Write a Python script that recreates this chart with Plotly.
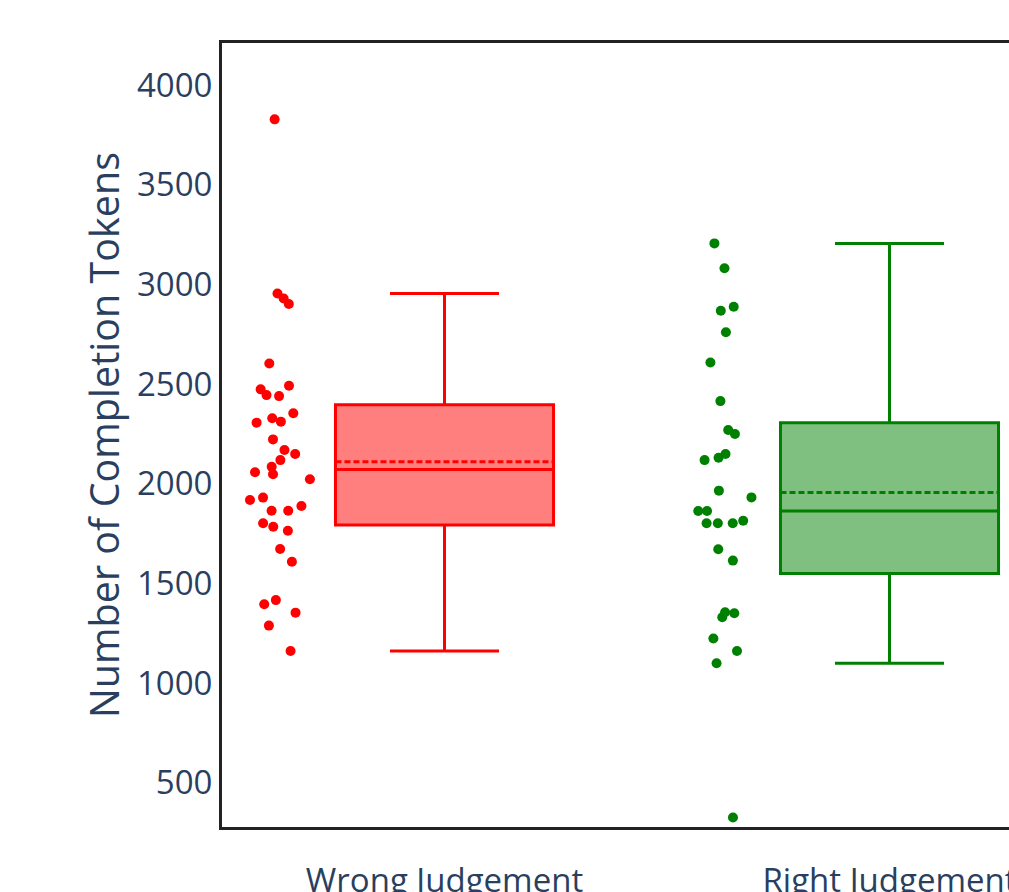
import plotly.graph_objects as go

categories = ["Wrong Judgement", "Right Judgement"]

wrong_tokens = [3828, 2955, 2930, 2902, 2604, 2492, 2474, 2445, 2440, 2354, 2307, 2329,
                2312, 2223, 2170, 2150, 2119, 2058, 2086, 2048, 2023, 1919, 1931, 1865,
                1865, 1889, 1802, 1785, 1765, 1673, 1609, 1417, 1396, 1354, 1289, 1162]

right_tokens = [3206, 3081, 2888, 2868, 2760, 2609, 2415, 2270, 2250, 2150, 2131, 2119,
                1966, 1932, 1864, 1864, 1802, 1802, 1802, 1815, 1672, 1615, 1356, 1351,
                1331, 1224, 1162, 1100, 327]

colors = ["red", "green"]
fills = ["rgba(255,0,0,0.5)", "rgba(0,128,0,0.5)"]

fig = go.Figure()
for cat, vals, c, f in zip(categories, [wrong_tokens, right_tokens], colors, fills):
    fig.add_trace(go.Box(
        y=vals,
        x=[cat] * len(vals),
        name=cat,
        boxpoints="all",
        jitter=0.3,
        pointpos=-1.5,
        boxmean=True,
        marker=dict(color=c, size=10),
        line=dict(color=c, width=3),
        fillcolor=f,
    ))

fig.update_layout(
    width=1009,
    height=892,
    margin=dict(l=222, r=0, t=43, b=65, autoexpand=False),
    template="plotly_white",
    plot_bgcolor="white",
    paper_bgcolor="white",
    showlegend=False,
    font=dict(family="Open Sans", color="#2a3f5f", size=33),
)
fig.update_xaxes(
    range=[-0.5, -0.5 + 787 / 445],
    automargin=False,
    showgrid=False,
    showline=True,
    linecolor="#222",
    linewidth=3,
    mirror=True,
    ticks="",
    ticklabelstandoff=22,
    tickfont=dict(size=33),
    zeroline=False,
)
fig.update_yaxes(
    range=[279, 4211],
    automargin=False,
    dtick=500,
    showgrid=False,
    showline=True,
    linecolor="#222",
    linewidth=3,
    mirror=True,
    ticks="",
    tickfont=dict(size=33),
    title=dict(text="Number of Completion Tokens", font=dict(size=39.5), standoff=6),
    zeroline=False,
)

fig.write_html(
    "out.html",
    config={"displayModeBar": False},
    post_script="document.body.style.margin='0px';document.body.style.overflow='hidden';",
)
